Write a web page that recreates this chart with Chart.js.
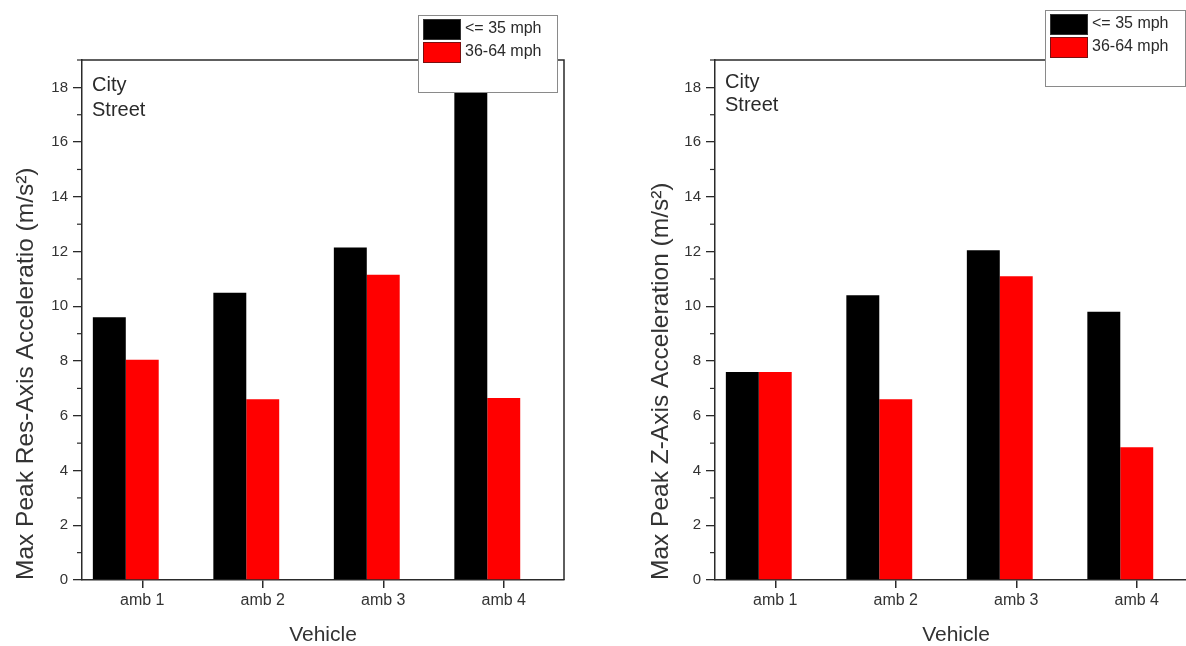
<!DOCTYPE html>
<html>
<head>
<meta charset="utf-8">
<script src="https://cdn.jsdelivr.net/npm/chart.js@4/dist/chart.umd.min.js"></script>
<style>
  html, body { margin: 0; padding: 0; background: #fff; overflow: hidden; }
  body { width: 1186px; height: 646px; position: relative; }
  #wrapA { position: absolute; left: 0; top: 0; width: 600px; height: 646px; }
  #wrapB { position: absolute; left: 600px; top: 0; width: 640px; height: 646px; }
</style>
</head>
<body>
<div id="wrapA"><canvas id="resChart" width="600" height="646"></canvas></div>
<div id="wrapB"><canvas id="zChart" width="640" height="646"></canvas></div>
<script>
// valores
const vehicles = ['amb 1', 'amb 2', 'amb 3', 'amb 4'];
const speedLabels = ['<= 35 mph', '36-64 mph'];

const resSlow = [9.6, 10.5, 12.15, 17.85];
const resFast = [8.05, 6.6, 11.15, 6.65];

const zSlow = [7.6, 10.4, 12.05, 9.8];
const zFast = [7.6, 6.6, 11.1, 4.85];

const yTickLabels = [0, 2, 4, 6, 8, 10, 12, 14, 16, 18];
const placeText = ['City', 'Street'];

const fontFam = '"Liberation Sans", Arial, sans-serif';
const ink = '#2a2a2a';

// caixa, ticks menores e legenda desenhados por cima
const extras = {
  id: 'extras',
  afterDraw(chart, args, opts) {
    const c = chart.ctx;
    const a = chart.chartArea;
    const y = chart.scales.y;
    c.save();
    c.strokeStyle = ink;
    c.lineWidth = 1.5;
    c.beginPath();
    c.moveTo(a.left, a.top);
    c.lineTo(a.right, a.top);
    c.lineTo(a.right, a.bottom);
    c.stroke();

    // ticks menores
    c.lineWidth = 1.2;
    for (let v = 1; v <= 19; v += 2) {
      const py = y.getPixelForValue(v);
      c.beginPath();
      c.moveTo(a.left - 5, py);
      c.lineTo(a.left, py);
      c.stroke();
    }

    // City / Street
    c.fillStyle = ink;
    c.font = '20px ' + fontFam;
    c.textBaseline = 'middle';
    c.textAlign = 'left';
    placeText.forEach((t, i) => {
      c.fillText(t, a.left + 10, a.top + opts.textTop + i * opts.textGap);
    });

    // legenda
    const b = opts.box;
    c.fillStyle = '#fff';
    c.fillRect(b.x, b.y, b.w, b.h);
    c.strokeStyle = '#8a8a8a';
    c.lineWidth = 1;
    c.strokeRect(b.x + 0.5, b.y + 0.5, b.w, b.h);
    chart.data.datasets.slice(0, 2).forEach((ds, i) => {
      const sy = b.y + 4 + i * 23;
      c.fillStyle = ds.backgroundColor;
      c.fillRect(b.x + 5, sy, 38, 21);
      c.strokeStyle = i === 0 ? '#333' : '#7a1010';
      c.strokeRect(b.x + 5.5, sy + 0.5, 37, 20);
      c.fillStyle = ink;
      c.font = '16px ' + fontFam;
      c.textBaseline = 'middle';
      c.fillText(ds.label, b.x + 47, sy + 10);
    });
    c.restore();
  }
};

function makeChart(id, slow, fast, yTitle, pad, yWidth, legendBox, textTop, textGap) {
  return new Chart(document.getElementById(id), {
    type: 'bar',
    data: {
      labels: vehicles,
      datasets: [
        { label: speedLabels[0], data: slow, backgroundColor: '#000000' },
        { label: speedLabels[1], data: fast, backgroundColor: '#ff0000' },
        { label: '', data: vehicles.map(() => null), backgroundColor: 'rgba(0,0,0,0)' }
      ]
    },
    options: {
      responsive: false,
      animation: false,
      layout: { padding: pad },
      datasets: { bar: { categoryPercentage: 0.82, barPercentage: 1.0, borderWidth: 0 } },
      plugins: {
        legend: { display: false },
        tooltip: { enabled: false },
        extras: { box: legendBox, textTop: textTop, textGap: textGap }
      },
      scales: {
        x: {
          offset: true,
          grid: { offset: false, drawOnChartArea: false, tickLength: 8, color: ink, lineWidth: 1.5 },
          border: { display: true, color: ink, width: 1.5 },
          ticks: { color: '#333', font: { family: fontFam, size: 16 }, padding: 3 },
          title: { display: true, text: 'Vehicle', color: '#333', font: { family: fontFam, size: 21 }, padding: { top: 0, bottom: -2 } },
          afterFit: s => { s.height = 66; }
        },
        y: {
          min: 0,
          max: 19,
          afterBuildTicks: s => { s.ticks = yTickLabels.map(v => ({ value: v })); },
          grid: { drawOnChartArea: false, tickLength: 9, color: ink, lineWidth: 1.3 },
          border: { display: true, color: ink, width: 1.5 },
          ticks: { color: '#333', font: { family: fontFam, size: 15 }, padding: 5 },
          title: { display: true, align: 'start', text: yTitle, color: '#333', font: { family: fontFam, size: 24.5 }, padding: { top: 0, bottom: 0 } },
          afterFit: s => { s.width = yWidth; }
        }
      }
    },
    plugins: [extras]
  });
}

makeChart('resChart', resSlow, resFast, 'Max Peak Res-Axis Acceleratio (m/s²)',
  { left: 12, right: 36, top: 60, bottom: 0 }, 70,
  { x: 418, y: 15, w: 139, h: 77 }, 25, 25);

makeChart('zChart', zSlow, zFast, 'Max Peak Z-Axis Acceleration (m/s²)',
  { left: 47, right: 43, top: 60, bottom: 0 }, 68,
  { x: 445, y: 10, w: 140, h: 76 }, 22, 23);
</script>
</body>
</html>
